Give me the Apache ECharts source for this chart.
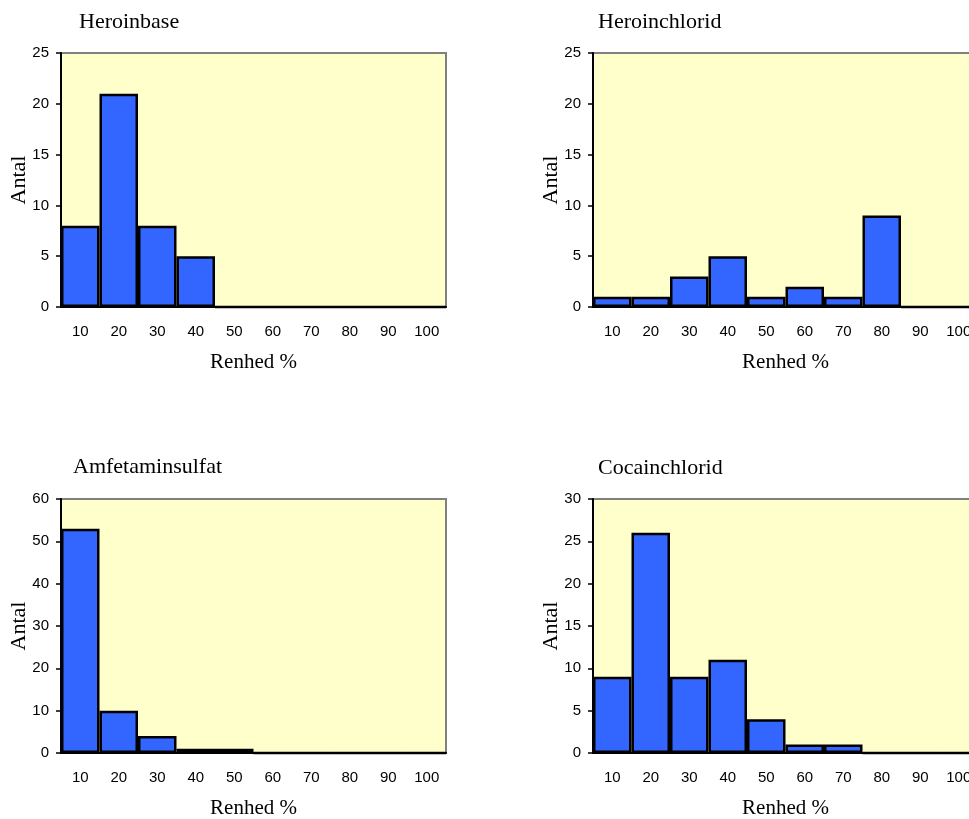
<!DOCTYPE html>
<html>
<head>
<meta charset="utf-8">
<script src="https://cdn.jsdelivr.net/npm/echarts@6/dist/echarts.min.js"></script>
<style>
html,body{margin:0;padding:0;background:#fff;}
#c{width:969px;height:819px;}
</style>
</head>
<body>
<div id="c"></div>
<script>
const categories = ['10','20','30','40','50','60','70','80','90','100'];
const titles = ['Heroinbase','Heroinchlorid','Amfetaminsulfat','Cocainchlorid'];
const heroinbase = [8,21,8,5,0,0,0,0,0,0];
const heroinchlorid = [1,1,3,5,1,2,1,9,0,0];
const amfetaminsulfat = [53,10,4,1,1,0,0,0,0,0];
const cocainchlorid = [9,26,9,11,4,1,1,0,0,0];
const yMax = [25,25,60,30];
const yStep = [5,5,10,5];
const xName = 'Renhed %';
const yName = 'Antal';

const seriesData = [heroinbase, heroinchlorid, amfetaminsulfat, cocainchlorid];
const grids = [
  {left:61, top:53, width:385, height:254},
  {left:593, top:53, width:385, height:254},
  {left:61, top:499, width:385, height:254},
  {left:593, top:499, width:385, height:254}
];
const titlePos = [
  {left:79, top:11},
  {left:598, top:11},
  {left:73, top:456},
  {left:598, top:457}
];
const serif = 'Liberation Serif';
const sans = 'Liberation Sans';

const option = {
  animation:false,
  backgroundColor:'#ffffff',
  title: titles.map((t,i)=>({
    text:t, left:titlePos[i].left, top:titlePos[i].top, padding:0,
    textStyle:{fontFamily:serif,fontSize:22,fontWeight:'normal',color:'#000'}
  })),
  grid: grids.map(g=>Object.assign({show:true, containLabel:false, outerBoundsMode:'none', backgroundColor:'#FFFFCC', borderColor:'#808080', borderWidth:2}, g)),
  xAxis: grids.map((g,i)=>({
    type:'category', gridIndex:i, data:categories,
    name:xName, nameLocation:'middle', nameGap:45, nameMoveOverlap:false,
    nameTextStyle:{fontFamily:serif,fontSize:21,color:'#000'},
    axisLine:{lineStyle:{color:'#000',width:2}},
    axisTick:{length:6,lineStyle:{color:'#000',width:1.5}},
    axisLabel:{fontFamily:sans,fontSize:15,color:'#000',margin:17,interval:0},
    splitLine:{show:false}
  })),
  yAxis: grids.map((g,i)=>({
    type:'value', gridIndex:i, min:0, max:yMax[i], interval:yStep[i],
    name:yName, nameLocation:'middle', nameGap:31, nameRotate:90, nameMoveOverlap:false,
    nameTextStyle:{fontFamily:serif,fontSize:22,color:'#000'},
    axisLine:{show:true,lineStyle:{color:'#000',width:2}},
    axisTick:{show:true,length:5,lineStyle:{color:'#000',width:1.5}},
    axisLabel:{fontFamily:sans,fontSize:15,color:'#000',margin:12},
    splitLine:{show:false}
  })),
  series: seriesData.map((d,i)=>({
    type:'bar', xAxisIndex:i, yAxisIndex:i, data:d,
    barCategoryGap:'0%', barGap:'0%',
    itemStyle:{color:'#3366FF', borderColor:'#000', borderWidth:2.5}
  }))
};
const chart = echarts.init(document.getElementById('c'), null, {renderer:'canvas'});
chart.setOption(option);
</script>
</body>
</html>
